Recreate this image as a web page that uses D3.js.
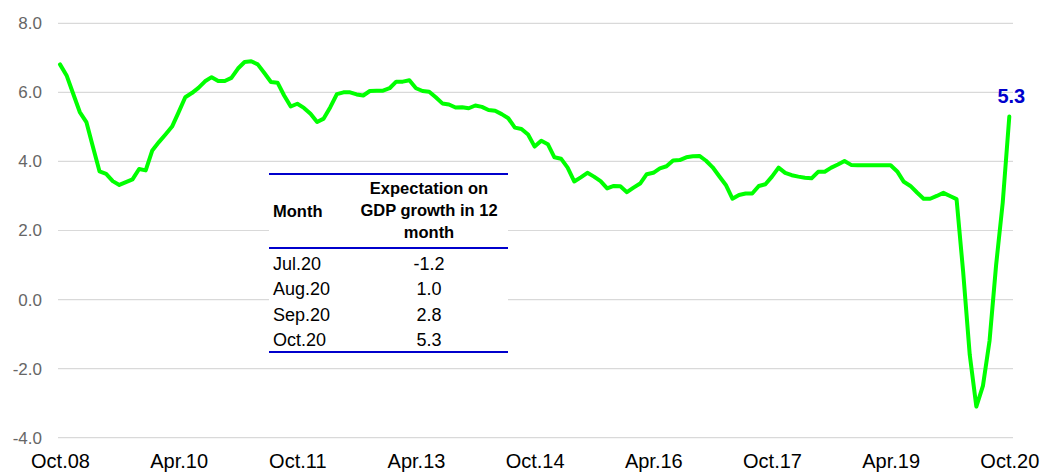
<!DOCTYPE html>
<html>
<head>
<meta charset="utf-8">
<script src="https://cdn.jsdelivr.net/npm/d3@7/dist/d3.min.js"></script>
<style>
  html, body { margin: 0; padding: 0; background: #fff; }
  svg { display: block; font-family: "Liberation Sans", Arial, sans-serif; }
</style>
</head>
<body>
<svg id="chart" width="1043" height="473"></svg>
<script>
// Monthly expectation on GDP growth in 12 months, Oct.08 .. Oct.20 (145 months)
const startLabel = "Oct.08";
const values = [
  6.81, 6.49, 5.96, 5.43, 5.14, 4.42, 3.71, 3.64, 3.43, 3.32, 3.40, 3.48,
  3.78, 3.74, 4.32, 4.56, 4.78, 5.01, 5.43, 5.86, 5.98, 6.13, 6.32, 6.44,
  6.33, 6.33, 6.42, 6.69, 6.88, 6.90, 6.81, 6.56, 6.30, 6.28, 5.91, 5.59,
  5.67, 5.55, 5.38, 5.14, 5.24, 5.57, 5.95, 6.00, 6.00, 5.94, 5.91, 6.04,
  6.05, 6.05, 6.12, 6.31, 6.31, 6.35, 6.12, 6.04, 6.02, 5.86, 5.68, 5.65,
  5.56, 5.57, 5.54, 5.62, 5.58, 5.49, 5.47, 5.37, 5.25, 4.98, 4.94, 4.78,
  4.43, 4.60, 4.50, 4.12, 4.08, 3.82, 3.42, 3.54, 3.67, 3.56, 3.43, 3.22,
  3.29, 3.28, 3.11, 3.24, 3.36, 3.63, 3.67, 3.80, 3.86, 4.03, 4.04, 4.12,
  4.15, 4.16, 4.02, 3.83, 3.57, 3.32, 2.92, 3.03, 3.07, 3.07, 3.29, 3.34,
  3.56, 3.82, 3.67, 3.60, 3.56, 3.53, 3.51, 3.70, 3.70, 3.82, 3.91, 4.01,
  3.90, 3.89, 3.89, 3.89, 3.89, 3.89, 3.89, 3.71, 3.41, 3.29, 3.10, 2.92,
  2.92, 3.00, 3.09, 3.00, 2.91, 0.8, -1.6, -3.1, -2.5, -1.2, 1.0, 2.8,
  5.3
];
const xTickIndex = [0, 18, 36, 54, 72, 90, 108, 126, 144];
const xTickLabels = ["Oct.08", "Apr.10", "Oct.11", "Apr.13", "Oct.14", "Apr.16", "Oct.17", "Apr.19", "Oct.20"];
const yTicks = [-4, -2, 0, 2, 4, 6, 8];
const tableHeader = ["Month", "Expectation on|GDP growth in 12|month"];
const tableMonths = ["Jul.20", "Aug.20", "Sep.20", "Oct.20"];
const tableValues = [-1.2, 1.0, 2.8, 5.3];
const lastLabel = "5.3";

const svg = d3.select("#chart");
const x = d3.scaleLinear().domain([0, values.length - 1]).range([60, 1009.3]);
const y = d3.scaleLinear().domain([-4, 8]).range([437.7, 23.3]);

// gridlines
svg.append("g").selectAll("line").data(yTicks).join("line")
  .attr("x1", 58).attr("x2", 1013)
  .attr("y1", d => y(d)).attr("y2", d => y(d))
  .attr("stroke", "#d9d9d9").attr("stroke-width", 1.2);

// y axis labels
const yAxis = d3.axisLeft(y).tickValues(yTicks).tickSize(0).tickPadding(0)
  .tickFormat(d => d.toFixed(1));
const gy = svg.append("g").attr("transform", "translate(42,0)").call(yAxis);
gy.select(".domain").remove();
gy.selectAll("text").attr("font-size", 17).attr("fill", "#666666")
  .attr("font-family", "'Liberation Sans', Arial, sans-serif");

// x axis labels
const xAxis = d3.axisBottom(x).tickValues(xTickIndex).tickSize(0).tickPadding(0)
  .tickFormat((d, i) => xTickLabels[i]);
const gx = svg.append("g").attr("transform", "translate(0,454)").call(xAxis);
gx.select(".domain").remove();
gx.selectAll("text").attr("font-size", 20).attr("fill", "#000")
  .attr("font-family", "'Liberation Sans', Arial, sans-serif");

// line
const line = d3.line().x((d, i) => x(i)).y(d => y(d));
svg.append("path").datum(values)
  .attr("d", line)
  .attr("fill", "none").attr("stroke", "#00ff00")
  .attr("stroke-width", 4).attr("stroke-linejoin", "round").attr("stroke-linecap", "round");

// end label
svg.append("text")
  .attr("x", x(values.length - 1) + 2).attr("y", y(values[values.length - 1]) - 14)
  .attr("text-anchor", "middle").attr("font-size", 20).attr("font-weight", "bold")
  .attr("fill", "#0000cc").text(lastLabel);

// table
const tX0 = 269, tX1 = 508, tTop = 174, tHead = 248, tBot = 352;
const colMonthX = 273, colValX = 429;
const tbl = svg.append("g");
tbl.append("rect").attr("x", tX0).attr("y", tTop).attr("width", tX1 - tX0).attr("height", tBot - tTop)
  .attr("fill", "#fff");
tbl.append("text").attr("x", colMonthX).attr("y", 217).attr("font-size", 16.5)
  .attr("font-weight", "bold").attr("fill", "#000").text(tableHeader[0]);
const hdrLines = tableHeader[1].split("|");
tbl.selectAll("text.h2").data(hdrLines).join("text").attr("class", "h2")
  .attr("x", colValX).attr("y", (d, i) => 194 + i * 22)
  .attr("text-anchor", "middle").attr("font-size", 16.5).attr("font-weight", "bold")
  .attr("fill", "#000").text(d => d);
tbl.selectAll("text.m").data(tableMonths).join("text").attr("class", "m")
  .attr("x", colMonthX).attr("y", (d, i) => 269.5 + i * 25.5)
  .attr("font-size", 18).attr("fill", "#000").text(d => d);
tbl.selectAll("text.v").data(tableValues).join("text").attr("class", "v")
  .attr("x", colValX).attr("y", (d, i) => 269.5 + i * 25.5)
  .attr("text-anchor", "middle").attr("font-size", 18).attr("fill", "#000")
  .text(d => d.toFixed(1));
tbl.selectAll("line").data([tTop, tHead, tBot]).join("line")
  .attr("x1", tX0).attr("x2", tX1).attr("y1", d => d).attr("y2", d => d)
  .attr("stroke", "#0000cc").attr("stroke-width", 2);
</script>
</body>
</html>
